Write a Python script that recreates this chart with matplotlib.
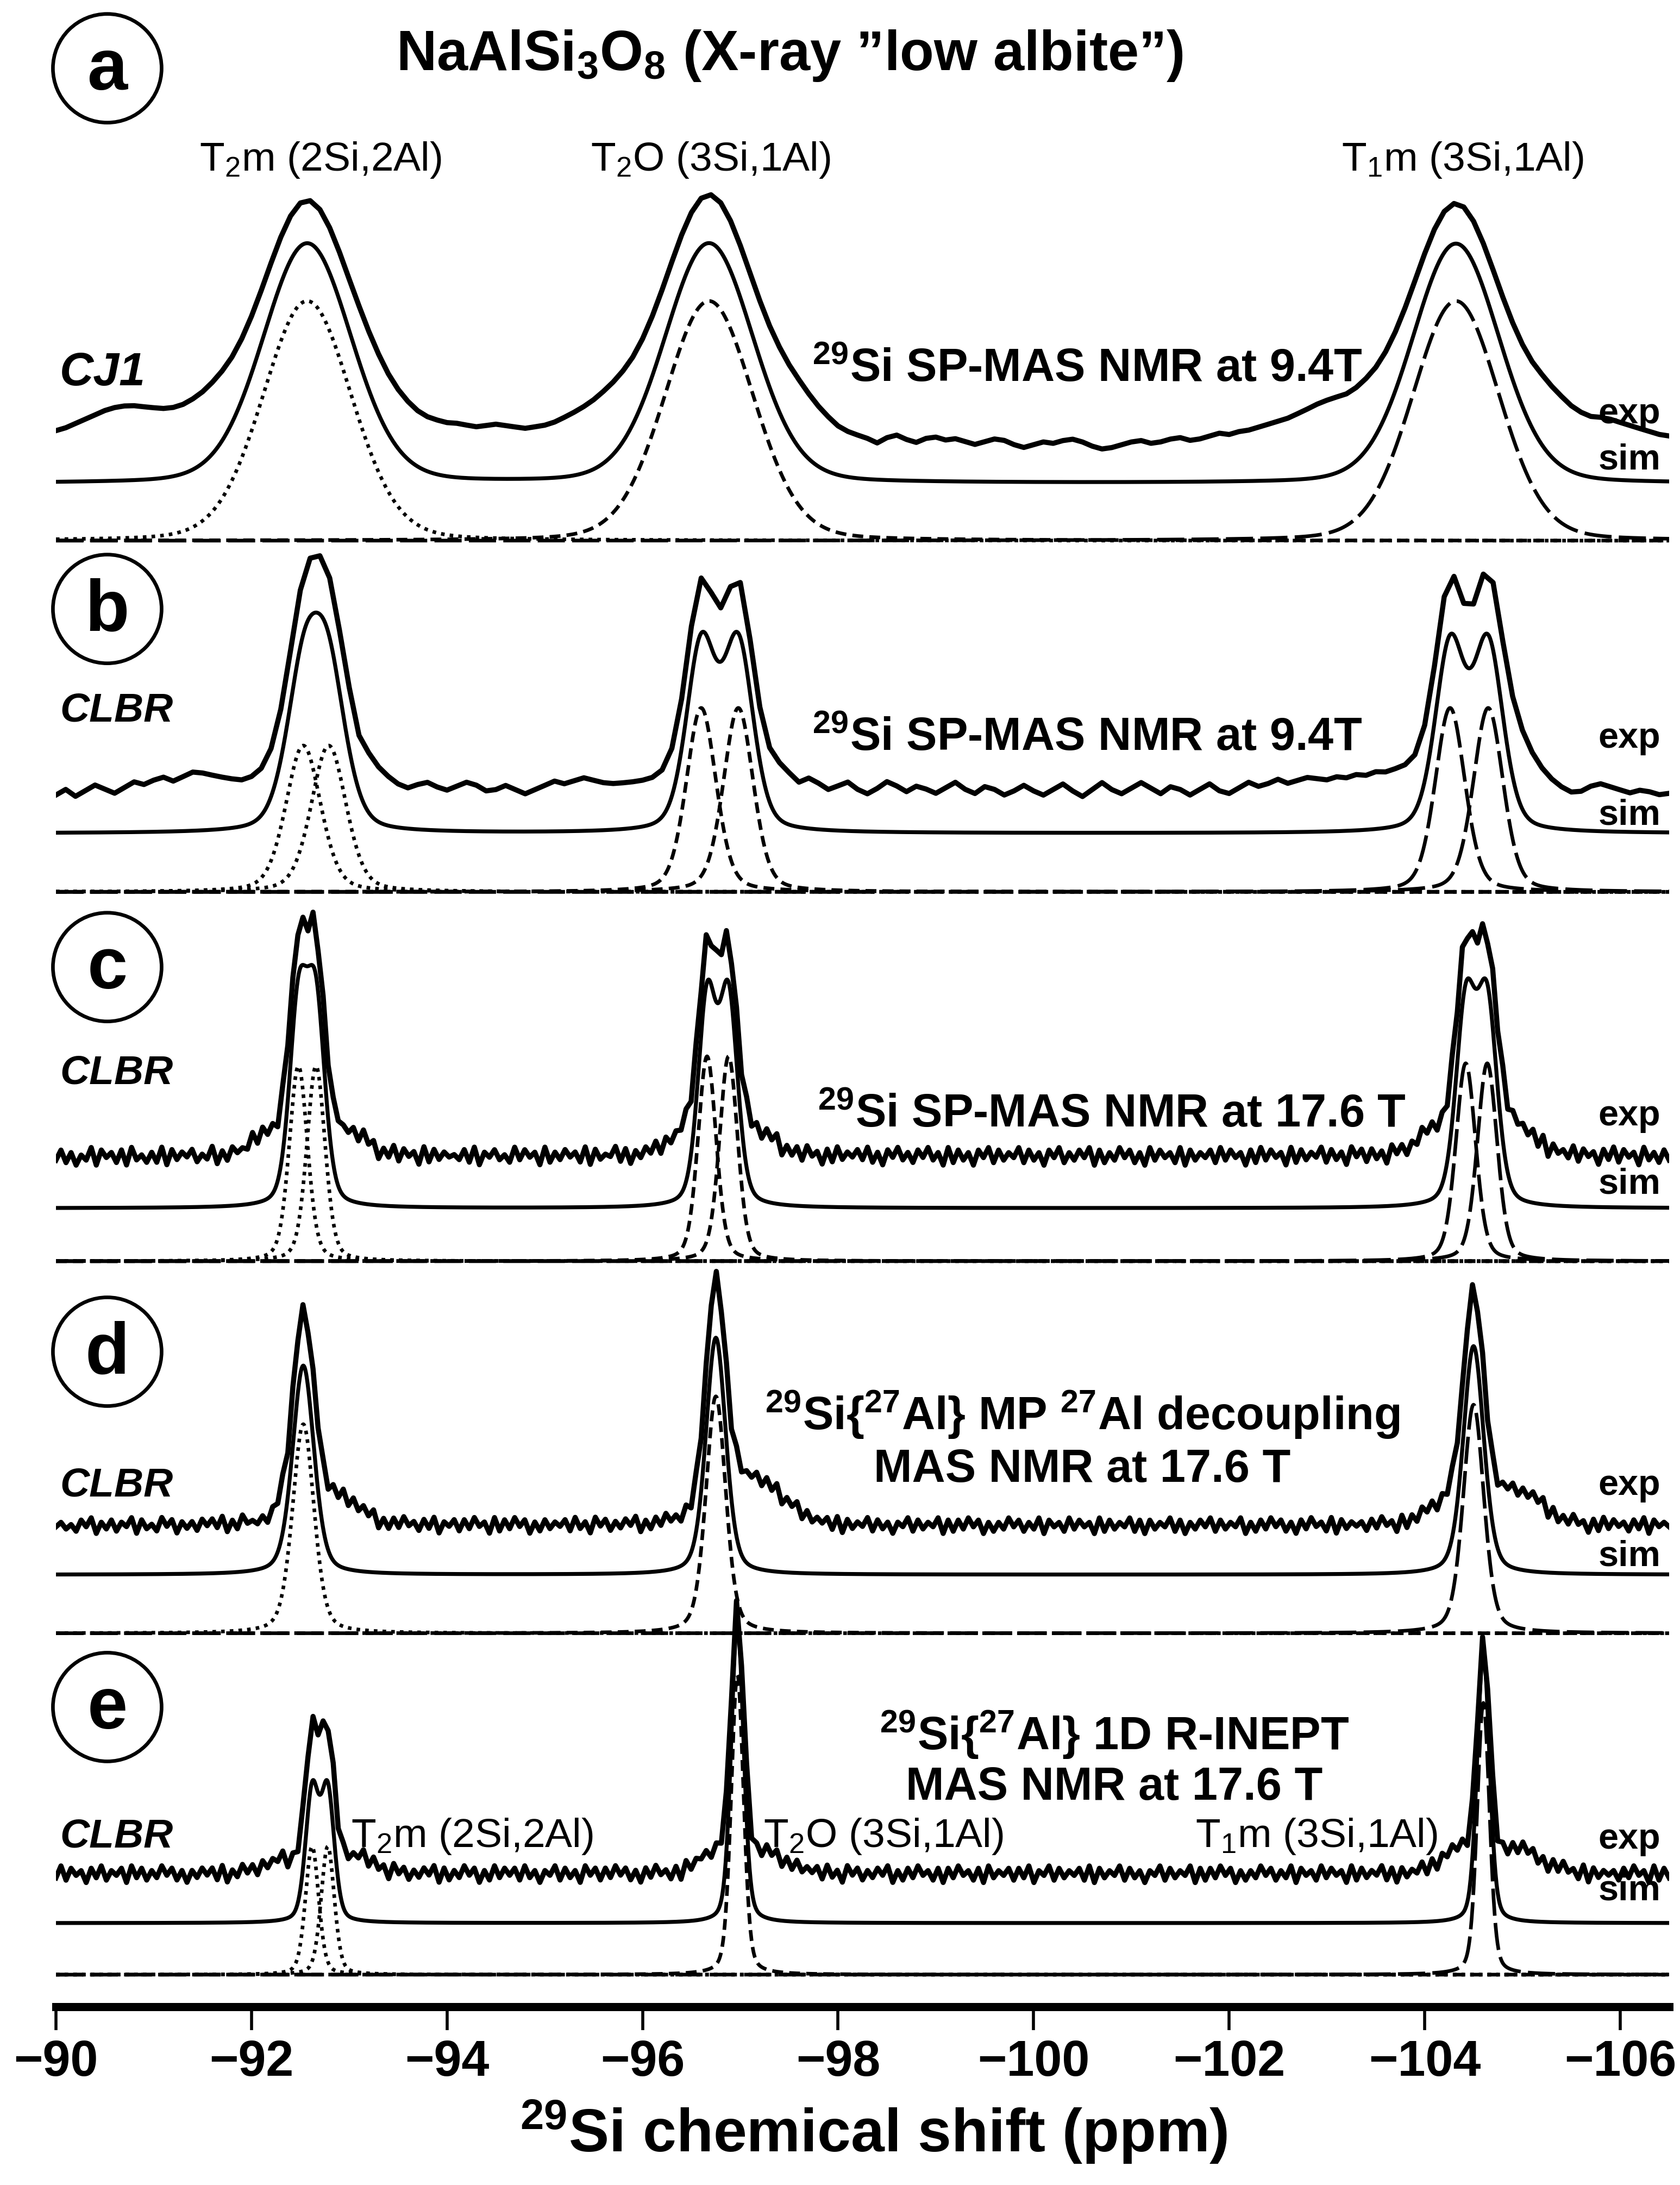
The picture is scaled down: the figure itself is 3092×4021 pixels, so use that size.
#!/usr/bin/env python3
import numpy as np
import matplotlib
matplotlib.use('Agg')
import matplotlib.pyplot as plt
from matplotlib.patches import Ellipse

plt.rcParams['font.family'] = ['Liberation Sans', 'DejaVu Sans']
plt.rcParams['mathtext.fontset'] = 'custom'
plt.rcParams['mathtext.rm'] = 'Liberation Sans'
plt.rcParams['mathtext.bf'] = 'Liberation Sans:bold'
plt.rcParams['mathtext.it'] = 'Liberation Sans:italic'

# ---- data ------------------------------------------------------------
tick_values = [-90, -92, -94, -96, -98, -100, -102, -104, -106]
tick_labels = ['\u2212' + str(-v) for v in tick_values]

panel_letters = ['a', 'b', 'c', 'd', 'e']
panel_samples = ['CJ1', 'CLBR', 'CLBR', 'CLBR', 'CLBR']

# vertical levels of the three traces of each panel (intensity units)
comp_levels = [1052, 800, 535, 268, 23]
sim_levels = [1093, 842, 573, 310, 60]
exp_levels = [1132, 875, 610, 345, 95]
lorentz_frac = [0.15, 0.3, 0.3, 0.35, 0.3]
exp_broaden = [0.95, 1.0, 1.0, 1.0, 1.0]

# fitted components: site, centre (ppm), fwhm (ppm), height sim, height exp
peaks_a = [('T2m', -92.57, 1.07, 172, 144), ('T2O', -96.68, 1.07, 172, 148),
           ('T1m', -104.32, 1.05, 172, 142)]
peaks_b = [('T2m', -92.53, 0.42, 105, 111), ('T2m', -92.79, 0.42, 105, 111),
           ('T2O', -96.60, 0.36, 132, 138), ('T2O', -96.98, 0.36, 132, 138),
           ('T1m', -104.26, 0.36, 132, 136), ('T1m', -104.65, 0.36, 132, 136)]
peaks_c = [('T2m', -92.48, 0.22, 140, 135), ('T2m', -92.66, 0.22, 140, 135),
           ('T2O', -96.66, 0.22, 147, 140), ('T2O', -96.88, 0.22, 147, 140),
           ('T1m', -104.42, 0.24, 142, 137), ('T1m', -104.64, 0.24, 142, 137)]
peaks_d = [('T2m', -92.53, 0.26, 150, 153), ('T2O', -96.75, 0.24, 170, 168),
           ('T1m', -104.50, 0.25, 164, 163)]
peaks_e = [('T2m', -92.62, 0.16, 92, 98), ('T2m', -92.78, 0.16, 92, 98),
           ('T2O', -96.97, 0.15, 215, 190), ('T1m', -104.60, 0.15, 195, 160)]
all_peaks = [peaks_a, peaks_b, peaks_c, peaks_d, peaks_e]

# broad shoulders seen only in the experimental traces: centre, fwhm, height
humps_a = []
humps_b = [(-104.95, 0.35, 14)]
humps_c = [(-92.15, 0.35, 12), (-93.0, 0.4, 14), (-96.4, 0.35, 10), (-97.2, 0.4, 12),
           (-104.1, 0.4, 14), (-104.95, 0.45, 16)]
humps_d = [(-92.9, 0.5, 16), (-97.15, 0.7, 30), (-104.2, 0.4, 12), (-104.95, 0.6, 22)]
humps_e = [(-92.3, 0.4, 8), (-93.1, 0.4, 10), (-96.7, 0.35, 12), (-97.3, 0.5, 12),
           (-104.3, 0.4, 14), (-104.95, 0.6, 16)]
all_humps = [humps_a, humps_b, humps_c, humps_d, humps_e]

# experimental baselines, a and b read every 0.1 ppm from -90 to -106.5
exp_noise_a = [-2, 0, 3, 6, 9, 12, 14, 15, 15, 14,
               13, 12, 12, 13, 15, 17, 19, 20, 20, 20,
               20, 20, 20, 20, 20, 20, 20, 20, 20, 20,
               20, 20, 19, 17, 14, 11, 8, 5, 3, 2,
               1, 1, 0, -1, 0, 1, 0, -1, -2, -1,
               0, 2, 5, 8, 11, 14, 17, 19, 20, 20,
               20, 20, 20, 20, 20, 20, 20, 20, 20, 20,
               20, 20, 20, 20, 20, 19, 17, 13, 8, 3,
               -2, -5, -7, -9, -12, -8, -6, -9, -11, -8,
               -7, -9, -8, -10, -12, -10, -8, -9, -12, -14,
               -12, -10, -11, -9, -8, -10, -13, -15, -14, -12,
               -10, -9, -11, -10, -8, -7, -9, -8, -6, -4,
               -5, -3, -2, 0, 2, 4, 6, 9, 12, 15,
               17, 18, 18, 19, 20, 20, 20, 20, 20, 20,
               20, 20, 20, 20, 20, 20, 20, 20, 20, 20,
               20, 20, 20, 18, 15, 11, 8, 6, 6, 5,
               3, 1, -1, -3, -5, -6]
exp_noise_b = [-6, -2, -7, -3, 1, -2, -5, -1, 3, 1,
               4, 6, 3, 6, 9, 8, 6, 4, 2, 0,
               0, 0, 0, 0, 0, 0, 0, 0, 2, 5,
               8, 5, 9, 6, 2, -2, -4, -1, 1, -2,
               -4, -1, 2, 0, -4, -3, 0, -3, -6, -3,
               0, 3, 1, 3, 5, 3, 1, 0, 0, 0,
               0, 0, 0, 0, 0, 0, 0, 0, 0, 0,
               0, 1, 3, 5, 7, 4, -1, 3, 0, -4,
               -1, 2, -3, -6, -2, 3, 0, -4, 0, -2,
               -5, -1, 3, -2, -5, 0, -2, -6, -3, 1,
               -3, -6, -2, 2, -3, -7, -2, 3, -2, -5,
               -1, 3, -1, -5, 0, -2, -6, -2, 2, -3,
               -5, -1, 3, 0, 2, 5, 2, 4, 6, 5,
               4, 6, 5, 7, 6, 8, 7, 8, 8, 7,
               6, 5, 5, 5, 5, 6, 7, 8, 9, 10,
               10, 8, 5, 1, -3, -6, -5, -1, 1, -1,
               -3, -5, -3, -4, -6, -5]
# c, d, e: digit per 0.05 ppm point, 0..9 around the mean level
exp_noise_c = ("3726153817" "4627183526" "2817364725" "3816274538" "2736185746"
               "1827364536" "2847163827" "4618273645" "3728164735" "2837461826"
               "3746281735" "4827163748" "2736481627" "3847162837" "2748163728"
               "4617283647" "3826174836" "2748361827" "3617482736" "4827361748"
               "2637481726" "3847261837" "4628173647" "2837461728" "3746182736"
               "4827361847" "2736184726" "3847261738" "2748163827" "4637281746"
               "3827461738" "2746183627" "3")
exp_noise_d = ("4635274816" "3726481735" "2847163627" "4738162845" "3627481736"
               "2846173827" "3748162738" "4627381647" "2738461827" "3847162736"
               "4728361847" "2637481627" "3846271738" "4627183647" "2738164827"
               "3647281736" "4827361648" "2736481727" "3847162638" "4726381746"
               "2837461827" "3648271736" "4827163748" "2736481627" "3847261738"
               "4628173646" "2738461827" "3847162736" "4728361647" "2637481726"
               "3846172837" "4627381746" "4")
exp_noise_e = ("3827461738" "2647183726" "3847261637" "4728163847" "2736481627"
               "3648172736" "4827361847" "2637481726" "3847162837" "4728361648"
               "2736184727" "3847261738" "4627183646" "2738461827" "3847162736"
               "4728361847" "2637481627" "3846271738" "4627183647" "2738164827"
               "3647281736" "4827361648" "2736481727" "3847162638" "4726381746"
               "2837461827" "3648271736" "4827163748" "2736481627" "3847261738"
               "4628173646" "2738461827" "3")
noise_step = [1.0, 1.0, 1.8, 1.6, 1.7]
all_noise = [exp_noise_a, exp_noise_b,
             [int(ch) - 4.5 for ch in exp_noise_c],
             [int(ch) - 4.5 for ch in exp_noise_d],
             [int(ch) - 4.5 for ch in exp_noise_e]]

comp_styles = {'T2m': (0, (1, 1.4)), 'T2O': (0, (3.0, 1.7)), 'T1m': (0, (7.5, 2.0))}


def pv(x, centre, fwhm, height, eta):
    # pseudo-Voigt line
    d = (x - centre) / (fwhm / 2.0)
    return height * (eta / (1.0 + d ** 2) + (1.0 - eta) * np.exp(-np.log(2.0) * d ** 2))


fig = plt.figure(figsize=(15.46, 20.105), dpi=200)
ax = fig.add_axes([0.0333, 0.0816, 0.9602, 0.9184])
ax.set_xlim(-90, -106.5)
ax.set_ylim(0, 1440)
for s in ['top', 'left', 'right']:
    ax.spines[s].set_visible(False)
ax.spines['bottom'].set_linewidth(5.4)
ax.set_yticks([])
ax.set_xticks(tick_values)
ax.set_xticklabels(tick_labels, fontsize=33, fontweight='bold')
ax.tick_params(axis='x', length=15.5, width=2, pad=6, direction='out')

x = np.linspace(-90, -106.5, 3301)
for i, peaks in enumerate(all_peaks):
    eta = lorentz_frac[i]
    sim = np.full_like(x, float(sim_levels[i]))
    noise = np.array(all_noise[i], dtype=float) * noise_step[i]
    x_exp = np.linspace(-90, -106.5, len(noise))
    exp = exp_levels[i] + noise
    for site, c, w, h, he in peaks:
        comp = pv(x, c, w, h, eta)
        ax.plot(x, comp_levels[i] + comp, color='k', lw=2.4, ls=comp_styles[site])
        sim += comp
        exp += pv(x_exp, c, w * exp_broaden[i], he, eta)
    for c, w, h in all_humps[i]:
        exp += pv(x_exp, c, w, h, 0.0)
    ax.plot(x, sim, color='k', lw=2.6, solid_joinstyle='round')
    ax.plot(x_exp, exp, color='k', lw=3.4, solid_joinstyle='round')

# ---- labels ----------------------------------------------------------
W, H = 1206.0, 1568.0


def fx(px):
    return px / W


def fy(py):
    return 1 - py / H


fig.text(fx(567), fy(40), 'NaAlSi$_{\\mathbf{3}}$O$_{\\mathbf{8}}$ (X-ray \u201dlow albite\u201d)',
         fontsize=37, fontweight='bold', ha='center', va='center')

circle_y = [49, 437, 694, 970, 1225]
for letter, cy in zip(panel_letters, circle_y):
    fig.patches.append(Ellipse((fx(77), fy(cy)), 78 / W, 78 / H, transform=fig.transFigure,
                               fill=False, lw=2.4, color='k'))
    fig.text(fx(77), fy(cy + 2), letter, fontsize=48, fontweight='bold', ha='center', va='center')

site_labels = ['T$_{2}$m (2Si,2Al)', 'T$_{2}$O (3Si,1Al)', 'T$_{1}$m (3Si,1Al)']
for lab, cx in zip(site_labels, [230, 510, 1050]):
    fig.text(fx(cx), fy(115), lab, fontsize=27, ha='center', va='center')
for lab, lx in zip(site_labels, [252, 548, 858]):
    fig.text(fx(lx), fy(1318), lab, fontsize=27, ha='left', va='center')

sample_y = [268, 510, 770, 1066, 1318]
sample_size = [31, 27, 27, 27, 27]
for lab, sy, fs in zip(panel_samples, sample_y, sample_size):
    fig.text(fx(43), fy(sy), lab, fontsize=fs, fontweight='bold', style='italic',
             ha='left', va='center')

exp_y = [297, 530, 801, 1066, 1320]
sim_y = [330, 585, 850, 1117, 1357]
for ey, sy in zip(exp_y, sim_y):
    fig.text(fx(1192), fy(ey), 'exp', fontsize=24, fontweight='bold', ha='right', va='center')
    fig.text(fx(1192), fy(sy), 'sim', fontsize=24, fontweight='bold', ha='right', va='center')

sup29 = '$^{\\mathbf{29}}$'
sup27 = '$^{\\mathbf{27}}$'
fig.text(fx(583), fy(265), sup29 + 'Si SP-MAS NMR at 9.4T', fontsize=30.5, fontweight='bold',
         ha='left', va='center')
fig.text(fx(583), fy(530), sup29 + 'Si SP-MAS NMR at 9.4T', fontsize=30.5, fontweight='bold',
         ha='left', va='center')
fig.text(fx(587), fy(800), sup29 + 'Si SP-MAS NMR at 17.6 T', fontsize=30.5, fontweight='bold',
         ha='left', va='center')
fig.text(fx(777), fy(1015), sup29 + 'Si{' + sup27 + 'Al} MP ' + sup27 + 'Al decoupling',
         fontsize=30.5, fontweight='bold', ha='center', va='center')
fig.text(fx(777), fy(1055), 'MAS NMR at 17.6 T', fontsize=30.5, fontweight='bold',
         ha='center', va='center')
fig.text(fx(800), fy(1245), sup29 + 'Si{' + sup27 + 'Al} 1D R-INEPT',
         fontsize=30.5, fontweight='bold', ha='center', va='center')
fig.text(fx(800), fy(1283), 'MAS NMR at 17.6 T', fontsize=30.5, fontweight='bold',
         ha='center', va='center')

fig.text(fx(627), fy(1530), sup29 + 'Si chemical shift (ppm)', fontsize=40, fontweight='bold',
         ha='center', va='center')

fig.savefig('out.png', dpi=200, facecolor='white')
